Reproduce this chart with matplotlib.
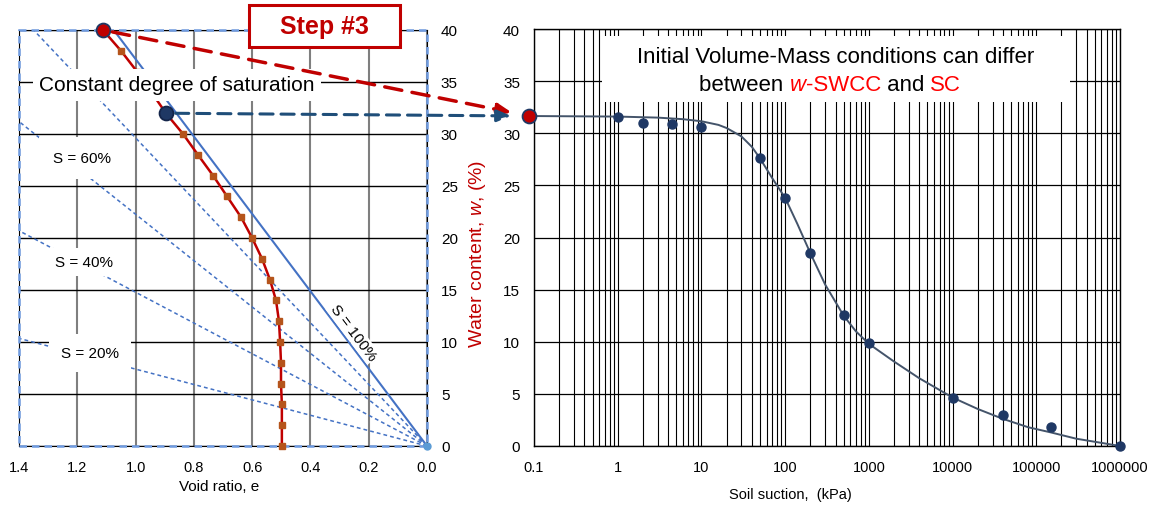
import matplotlib
matplotlib.use("Agg")
import matplotlib.pyplot as plt
from matplotlib.patches import Rectangle
from matplotlib.ticker import MultipleLocator, LogLocator, FuncFormatter, NullFormatter

plt.rcParams["font.family"] = ["Liberation Sans", "DejaVu Sans"]
plt.rcParams["mathtext.fontset"] = "custom"
plt.rcParams["mathtext.rm"] = "Liberation Sans"
plt.rcParams["mathtext.it"] = "Liberation Sans:italic"

# shrinkage curve (left): void ratio vs water content
sc_void_ratio = [1.112, 1.05, 0.995, 0.945, 0.896, 0.837, 0.786, 0.734, 0.686, 0.638,
                 0.600, 0.566, 0.539, 0.518, 0.508, 0.504, 0.501, 0.501, 0.498, 0.498, 0.498]
sc_water = [40, 38, 36, 34, 32, 30, 28, 26, 24, 22, 20, 18, 16, 14, 12, 10, 8, 6, 4, 2, 0]

# constant saturation lines, origin -> where they leave the plot
sat_levels = [20, 40, 60, 80]
sat_end_e = [1.4, 1.4, 1.4, 1.35]
sat_end_w = [10.35, 20.7, 31.2, 40]
full_sat_e = [0.0, 1.075]
full_sat_w = [0, 40]

# w-SWCC (right)
suction_meas = [1, 2, 4.5, 10, 50, 100, 200, 500, 1000, 10000, 40000, 150000, 1000000]
water_meas = [31.6, 31.0, 30.85, 30.6, 27.6, 23.8, 18.5, 12.55, 9.85, 4.65, 3.0, 1.8, 0.0]
suction_fit = [0.1, 1, 3, 6, 10, 16, 20, 30, 40, 50, 70, 100, 140, 200, 300, 500, 700,
               1000, 2000, 4000, 10000, 20000, 40000, 80000, 150000, 300000, 600000, 1000000]
water_fit = [31.65, 31.6, 31.5, 31.35, 31.15, 30.8, 30.5, 29.7, 28.7, 27.6, 25.7, 23.8, 21.3,
             18.5, 15.5, 12.5, 11.0, 9.8, 8.1, 6.5, 4.65, 3.55, 2.6, 1.8, 1.3, 0.7, 0.3, 0.0]
suction_init = 0.088
water_init = 31.65

RED = "#C00000"
NAVY = "#1F3864"
BLUE = "#4472C4"

fig = plt.figure(figsize=(11.56, 5.06), dpi=100)
axL = fig.add_axes([19 / 1156, 59 / 506, 408 / 1156, 416 / 506])
axR = fig.add_axes([534 / 1156, 59 / 506, 586 / 1156, 417 / 506])

# ---------------- left plot ----------------
axL.set_xlim(1.4, 0.0)
axL.set_ylim(0, 40)
axL.xaxis.set_major_locator(MultipleLocator(0.2))
axL.yaxis.set_major_locator(MultipleLocator(5))
axL.xaxis.set_major_formatter(FuncFormatter(lambda v, p: f"{abs(v):.1f}"))
axL.yaxis.tick_right()
axL.tick_params(axis="both", length=0, labelsize=11)
axL.tick_params(axis="y", pad=10)
axL.tick_params(axis="x", pad=10, labelsize=10.5)
axL.set_axisbelow(True)
axL.grid(axis="x", color="#7f7f7f", lw=1.5)
axL.grid(axis="y", color="black", lw=1.0)
for sp in axL.spines.values():
    sp.set_color("black")
    sp.set_linewidth(0.8)
axL.add_patch(Rectangle((0, 0), 1, 1, transform=axL.transAxes, fill=False,
                        edgecolor="#6f9be0", lw=1.8, ls=(0, (3, 2)), clip_on=False, zorder=2.6))

for s, e1, w1 in zip(sat_levels, sat_end_e, sat_end_w):
    axL.plot([0, e1], [0, w1], color=BLUE, lw=1.1, ls=(0, (2.5, 2)), zorder=2)
axL.plot(full_sat_e, full_sat_w, color=BLUE, lw=1.5, zorder=2)
axL.plot([0], [0], "o", color="#5B9BD5", ms=5, zorder=3, clip_on=False)

axL.plot(sc_void_ratio, sc_water, color=RED, lw=1.8, marker="s", ms=5,
         mfc="#B5541B", mec="#B5541B", zorder=3, clip_on=False)
axL.plot(sc_void_ratio[0], sc_water[0], "o", ms=10, mfc=RED, mec=NAVY, mew=1.3,
         zorder=7, clip_on=False)
axL.plot(sc_void_ratio[4], sc_water[4], "o", ms=10, mfc=NAVY, mec="#14254a", mew=1.3,
         zorder=7, clip_on=False)

axL.text(0.387, 0.868, "Constant degree of saturation", transform=axL.transAxes,
         ha="center", va="center", fontsize=15, zorder=6,
         bbox=dict(boxstyle="square,pad=0.3", fc="white", ec="none"))
axL.text(0.154, 0.692, "S = 60%", transform=axL.transAxes, ha="center", va="center",
         fontsize=11, zorder=6, bbox=dict(boxstyle="square,pad=0.9", fc="white", ec="none"))
axL.text(0.159, 0.442, "S = 40%", transform=axL.transAxes, ha="center", va="center",
         fontsize=11, zorder=6, bbox=dict(boxstyle="square,pad=0.45", fc="white", ec="none"))
axL.text(0.174, 0.224, "S = 20%", transform=axL.transAxes, ha="center", va="center",
         fontsize=11, zorder=6, bbox=dict(boxstyle="square,pad=0.8", fc="white", ec="none"))
axL.text(0.819, 0.274, "S = 100%", transform=axL.transAxes, ha="center", va="center",
         fontsize=11, rotation=-53, zorder=6,
         bbox=dict(boxstyle="square,pad=0.1", fc="white", ec="none"))

axL.set_xlabel("Void ratio, e", fontsize=11)
axL.xaxis.set_label_coords(0.49, -0.079)

fig.text(478 / 1156, 1 - 254 / 506, "Water content, $w$, (%)", rotation=90,
         color=RED, fontsize=14, ha="center", va="center")

# ---------------- right plot ----------------
axR.set_xscale("log")
axR.set_xlim(0.1, 1e6)
axR.set_ylim(0, 40)
axR.xaxis.set_major_locator(LogLocator(base=10, numticks=12))
axR.xaxis.set_minor_locator(LogLocator(base=10, subs=range(2, 10), numticks=12))
axR.xaxis.set_minor_formatter(NullFormatter())
axR.xaxis.set_major_formatter(FuncFormatter(lambda v, p: f"{v:g}" if v < 1 else f"{v:.0f}"))
axR.yaxis.set_major_locator(MultipleLocator(5))
axR.tick_params(axis="both", which="both", length=0, labelsize=11)
axR.tick_params(axis="y", pad=10)
axR.tick_params(axis="x", pad=10, labelsize=10.5)
axR.set_axisbelow(True)
axR.grid(which="both", axis="x", color="black", lw=0.8)
axR.grid(which="major", axis="y", color="black", lw=0.9)
for sp in axR.spines.values():
    sp.set_color("black")
    sp.set_linewidth(1.0)

axR.plot(suction_fit, water_fit, color="#44546A", lw=1.4, zorder=3)
axR.plot(suction_meas, water_meas, "o", color=NAVY, ms=6.5, zorder=4, clip_on=False)
axR.plot(suction_init, water_init, "o", ms=10, mfc=RED, mec=NAVY, mew=1.3, zorder=7,
         clip_on=False)

axR.add_patch(Rectangle((0.116, 0.825), 0.799, 0.158, transform=axR.transAxes,
                        fc="white", ec="none", zorder=5))
axR.text(0.515, 0.935, "Initial Volume-Mass conditions can differ", transform=axR.transAxes,
         ha="center", va="center", fontsize=16, zorder=6)
pieces = [("between ", "black", "normal"), ("w", "#FF0000", "italic"),
          ("-SWCC", "#FF0000", "normal"), (" and ", "black", "normal"),
          ("SC", "#FF0000", "normal")]
prev = axR.text(0.2816, 0.868, pieces[0][0], transform=axR.transAxes, ha="left",
                va="center", fontsize=16, color=pieces[0][1], zorder=6)
for txt, col, sty in pieces[1:]:
    prev = axR.annotate(txt, xy=(1, 0.5), xycoords=prev, ha="left", va="center",
                        fontsize=16, color=col, style=sty, zorder=6)

axR.set_xlabel("Soil suction,  (kPa)", fontsize=10.5)
axR.xaxis.set_label_coords(0.437, -0.098)

# ---------------- arrows from left points to the SWCC start ----------------
head = "-|>,head_length=0.6,head_width=0.25"
axR.annotate("", xy=(suction_init, water_init), xycoords="data",
             xytext=(sc_void_ratio[0], sc_water[0]), textcoords=axL.transData,
             annotation_clip=False, zorder=8,
             arrowprops=dict(arrowstyle=head, color=RED, lw=2.5, linestyle=(0, (5, 3)),
                             mutation_scale=14, shrinkA=7, shrinkB=13))
axR.annotate("", xy=(suction_init, water_init), xycoords="data",
             xytext=(sc_void_ratio[4], sc_water[4]), textcoords=axL.transData,
             annotation_clip=False, zorder=8,
             arrowprops=dict(arrowstyle=head, color="#1F4E79", lw=2.2,
                             linestyle=(0, (4.3, 2.6)),
                             mutation_scale=14, shrinkA=7, shrinkB=13))

fig.add_artist(Rectangle((249 / 1156, 1 - 48 / 506), 151 / 1156, 42 / 506,
                         transform=fig.transFigure, fc="white", ec=RED, lw=2.2, zorder=10))
fig.text(324.5 / 1156, 1 - 27 / 506, "Step #3", color=RED, fontsize=18,
         fontweight="bold", ha="center", va="center", zorder=11)

fig.savefig("out.png", dpi=100)
